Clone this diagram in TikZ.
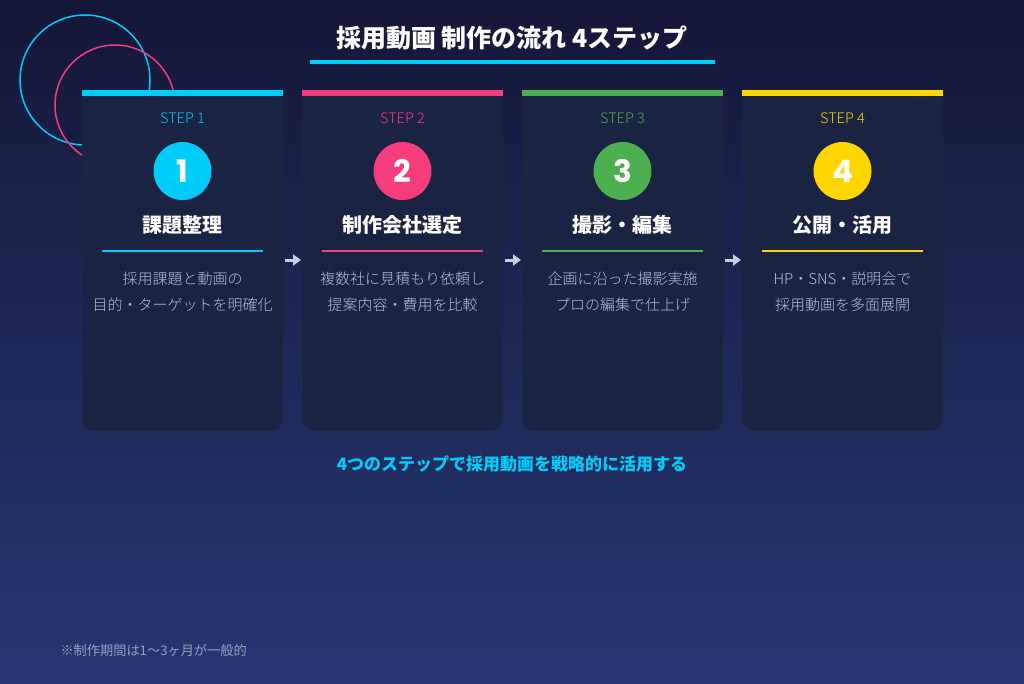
\documentclass[tikz,border=0pt]{standalone}
\usepackage{fontspec}
\setmainfont{Noto Sans CJK JP}
\newfontfamily\numfont{Poppins}[BoldFont={* Bold}]
\newfontfamily\lightfont{Noto Sans CJK JP Light}
\usetikzlibrary{arrows.meta}
\definecolor{bgtop}{RGB}{21,23,56}
\definecolor{bgbot}{RGB}{38,55,114}
\definecolor{cardbg}{RGB}{27,35,66}
\definecolor{cyanc}{RGB}{0,204,250}
\definecolor{pinkc}{RGB}{245,60,125}
\definecolor{greenc}{RGB}{76,175,80}
\definecolor{yellowc}{RGB}{255,214,0}
\definecolor{desc}{RGB}{185,190,210}
\definecolor{arrowc}{RGB}{200,203,225}
\definecolor{notec}{RGB}{150,158,190}
\begin{document}
\begin{tikzpicture}[x=1pt,y=-1pt,
  steplbl/.style={font=\lightfont\fontsize{14.5}{16}\selectfont},
  numcirc/.style={circle,minimum size=58pt,inner sep=0pt,text=white,font=\numfont\bfseries\fontsize{31}{31}\selectfont},
  titletxt/.style={text=white,font=\bfseries\fontsize{20}{22}\selectfont},
  desctxt/.style={text=desc,font=\lightfont\fontsize{15}{26}\selectfont,align=center},
  flowarrow/.style={draw=arrowc,line width=3pt,-{Triangle[length=8pt,width=11pt]}},
  cardbox/.style={rectangle,minimum width=201pt,minimum height=341pt,inner sep=0pt}
]
\useasboundingbox (0,0) rectangle (1024,683);
\shade[top color=bgtop,bottom color=bgbot] (0,0) rectangle (1024,683);
% decorative circles
\draw[cyanc,line width=1.5pt] (85,80) circle[radius=65];
\draw[pinkc,line width=1.5pt] (115,105) circle[radius=60];
% title
\node[text=white,font=\bfseries\fontsize{25}{28}\selectfont] (title) at (512,38) {採用動画 制作の流れ 4ステップ};
\draw[cyanc,line width=3.5pt] (310,62) -- (715,62);
% cards
\foreach \i/\x/\col/\ttl/\da/\db in {
  1/82/cyanc/課題整理/採用課題と動画の/目的・ターゲットを明確化,
  2/302/pinkc/制作会社選定/複数社に見積もり依頼し/提案内容・費用を比較,
  3/522/greenc/撮影・編集/企画に沿った撮影実施/プロの編集で仕上げ,
  4/742/yellowc/公開・活用/HP・SNS・説明会で/採用動画を多面展開}{
  \fill[cardbg] (\x,96) -- (\x+201,96) [rounded corners=12pt] -- (\x+201,431) -- (\x,431) [sharp corners] -- (\x,96) -- cycle;
  \fill[\col] (\x,90) rectangle (\x+201,96);
  \node[cardbox] (card\i) at (\x+100.5,260.5) {};
  \node[steplbl,text=\col] (lbl\i) at (\x+100.5,118) {STEP \i};
  \node[numcirc,fill=\col] (num\i) at (\x+100.5,171) {\i};
  \node[titletxt] (ttl\i) at (\x+100.5,225) {\ttl};
  \draw[\col,line width=2pt] (\x+20,251) -- (\x+181,251);
  \node[desctxt] (desc\i) at (\x+100.5,292) {\da\\\db};
}
% arrows
\foreach \a/\b/\xs in {1/2/285,2/3/505,3/4/725}{
  \coordinate (as\a) at (\xs,260);
  \coordinate (ae\a) at (\xs+16,260);
  \draw[flowarrow] (as\a) -- (ae\a);
}
\node[text=cyanc,font=\bfseries\fontsize{17}{19}\selectfont] (summary) at (512,464) {4つのステップで採用動画を戦略的に活用する};
\node[text=notec,font=\fontsize{13.2}{15}\selectfont,anchor=west] (note) at (57,650) {※制作期間は1〜3ヶ月が一般的};
\end{tikzpicture}
\end{document}
